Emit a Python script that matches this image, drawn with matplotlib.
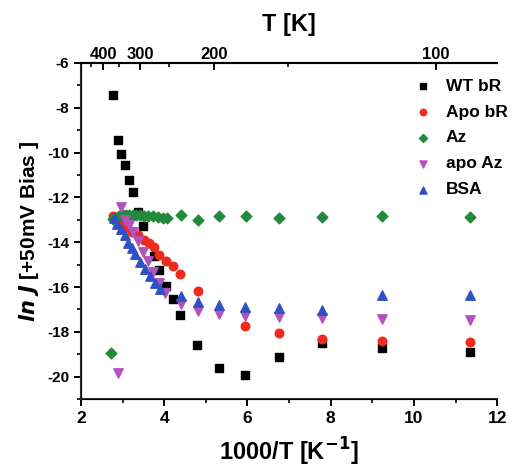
import matplotlib
matplotlib.use("Agg")
import matplotlib.pyplot as plt
from matplotlib.ticker import MultipleLocator

plt.rcParams['font.family'] = ['Liberation Sans', 'DejaVu Sans']
plt.rcParams['font.weight'] = 'bold'
plt.rcParams['axes.unicode_minus'] = False

# 1000/T [1/K] and ln J at +50 mV bias for each sample
wt_x = [2.76, 2.88, 2.96, 3.05, 3.15, 3.26, 3.36, 3.48, 3.75, 3.88, 4.04, 4.2, 4.39,
        4.79, 5.32, 5.95, 6.75, 7.8, 9.24, 11.34]
wt_y = [-7.45, -9.43, -10.06, -10.57, -11.24, -11.76, -12.66, -13.27, -14.6, -15.22,
        -15.97, -16.54, -17.27, -18.57, -19.61, -19.94, -19.12, -18.51, -18.7, -18.91]

apo_br_x = [2.76, 2.87, 2.99, 3.11, 3.23, 3.36, 3.51, 3.63, 3.75, 3.88, 4.05, 4.21,
            4.39, 4.8, 5.95, 6.75, 7.8, 9.24, 11.34]
apo_br_y = [-12.81, -12.94, -13.09, -13.31, -13.54, -13.69, -13.91, -14.03, -14.2,
            -14.58, -14.82, -15.06, -15.41, -16.19, -17.75, -18.06, -18.34, -18.43, -18.46]

az_x = [2.72, 2.76, 2.84, 2.92, 3.0, 3.08, 3.16, 3.24, 3.33, 3.42, 3.52, 3.62, 3.72,
        3.84, 3.96, 4.06, 4.4, 4.81, 5.32, 5.96, 6.75, 7.8, 9.24, 11.34]
az_y = [-18.93, -12.95, -12.9, -12.85, -12.8, -12.78, -12.77, -12.78, -12.8, -12.8,
        -12.83, -12.83, -12.85, -12.86, -12.92, -12.92, -12.79, -13.01, -12.82, -12.82,
        -12.91, -12.87, -12.82, -12.87]

apo_az_x = [2.88, 2.95, 3.05, 3.15, 3.26, 3.36, 3.48, 3.6, 3.72, 3.87, 4.02, 4.4,
            4.8, 5.32, 5.95, 6.75, 7.8, 9.24, 11.34]
apo_az_y = [-19.85, -12.45, -13.0, -13.25, -13.55, -13.95, -14.45, -14.85, -15.35,
            -15.8, -16.25, -16.75, -17.09, -17.22, -17.31, -17.36, -17.4, -17.45, -17.46]

bsa_x = [2.79, 2.87, 2.95, 3.05, 3.13, 3.23, 3.31, 3.43, 3.55, 3.65, 3.79, 3.91,
         4.4, 4.8, 5.32, 5.95, 6.75, 7.8, 9.24, 11.34]
bsa_y = [-12.9, -13.2, -13.39, -13.69, -14.03, -14.28, -14.54, -14.88, -15.18, -15.52,
         -15.82, -16.07, -16.4, -16.69, -16.82, -16.87, -16.94, -17.01, -16.37, -16.37]

# temperature scale along the top
t_major_pos = [2.53, 3.42, 5.2, 10.53]
t_major_labels = ['400', '300', '200', '100']
t_minor_pos = [2.24, 2.91, 4.12, 6.98]

fig = plt.figure(figsize=(5.19, 4.70), dpi=100)
ax = fig.add_axes([0.156, 0.151, 0.802, 0.715])

ax.scatter(wt_x, wt_y, marker='s', s=34, color='black', label='WT bR', zorder=3)
ax.scatter(apo_br_x, apo_br_y, marker='o', s=38, color='#ee2b1c', label='Apo bR', zorder=3)
ax.scatter(az_x, az_y, marker='D', s=30, color='#228a3a', label='Az', zorder=3)
ax.scatter(apo_az_x, apo_az_y, marker='v', s=46, color='#b452bd', label='apo Az', zorder=3)
ax.scatter(bsa_x, bsa_y, marker='^', s=46, color='#3150c4', label='BSA', zorder=3)

ax.set_xlim(2, 12)
ax.set_ylim(-21, -6)
ax.xaxis.set_major_locator(MultipleLocator(2))
ax.xaxis.set_minor_locator(MultipleLocator(1))
ax.yaxis.set_major_locator(MultipleLocator(2))
ax.yaxis.set_minor_locator(MultipleLocator(1))
ax.tick_params(which='major', direction='out', length=5, width=1.4, labelsize=12.5)
ax.tick_params(which='minor', direction='out', length=3, width=1.2)
ax.tick_params(axis='y', labelsize=11)
ax.spines['right'].set_visible(False)
for side in ['left', 'bottom', 'top']:
    ax.spines[side].set_linewidth(1.5)
    ax.spines[side].set_color('#333333')

ax.set_xlabel('1000/T [K$^{\\mathbf{-1}}$]', fontsize=17, fontweight='bold', labelpad=7)
ax.set_ylabel('$\\mathbf{\\mathit{ln\\ J}}$ [+50mV Bias ]', fontsize=15, fontweight='bold', labelpad=4)

top = ax.twiny()
top.set_xlim(ax.get_xlim())
top.set_xticks(t_major_pos, t_major_labels)
top.set_xticks(t_minor_pos, minor=True)
top.tick_params(which='major', direction='in', length=5, width=1.4, labelsize=12, pad=1)
top.tick_params(which='minor', direction='in', length=3, width=1.2)
top.spines['right'].set_visible(False)
top.spines['top'].set_linewidth(1.5)
top.set_xlabel('T [K]', fontsize=17, fontweight='bold', labelpad=11)

ax.legend(loc='upper right', frameon=False, fontsize=12.5, markerscale=0.75,
          handletextpad=0.3, labelspacing=0.62, borderaxespad=0.2,
          bbox_to_anchor=(1.05, 0.985))

fig.savefig('out.png', dpi=100)
